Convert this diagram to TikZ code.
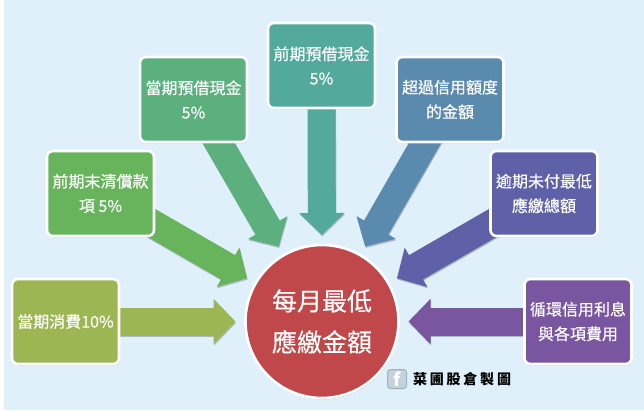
\documentclass[tikz,border=0pt]{standalone}
\usepackage{fontspec}
\setmainfont{Noto Sans CJK TC}
\newfontface\medcjk[FakeBold=0.35]{Noto Sans CJK TC}
\usetikzlibrary{arrows.meta,shadows,backgrounds,calc}
\pgfdeclarelayer{back}
\pgfsetlayers{back,background,main}
\definecolor{bgblue}{HTML}{DFF0FA}
\definecolor{ca}{HTML}{9BB652}
\definecolor{cb}{HTML}{67B45C}
\definecolor{cc}{HTML}{5BB07E}
\definecolor{cd}{HTML}{52A99C}
\definecolor{ce}{HTML}{5A8AAD}
\definecolor{cf}{HTML}{5E60A8}
\definecolor{cg}{HTML}{7A55A0}
\definecolor{cm}{HTML}{C0484A}
\definecolor{iconfill}{HTML}{C3D2DC}
\definecolor{iconedge}{HTML}{9FB0BC}
\tikzset{
  softshadow/.style={drop shadow={shadow xshift=0.6pt,shadow yshift=-1.4pt,opacity=.35,fill=black!70}},
  box/.style={rectangle,rounded corners=6pt,draw=white,line width=2.6pt,minimum width=107pt,minimum height=85pt,
    inner sep=0pt,outer sep=0pt,text=white,align=center,font=\fontsize{16}{24.5}\medcjk,softshadow},
  hub/.style={circle,draw=white,line width=2.6pt,minimum size=153pt,inner sep=0pt,outer sep=0pt,fill=cm,
    text=white,align=center,font=\fontsize{25}{41}\medcjk,softshadow},
  bigarrow/.style={line width=28pt,shorten >=10pt,shorten <=-14pt,
    -{Triangle[length=22pt,width=44pt]}},
  arrowshadow/.style={bigarrow,black,opacity=.22,transform canvas={xshift=.6pt,yshift=-1.4pt}},
  fbicon/.style={rectangle,rounded corners=3pt,draw=iconedge,line width=1pt,fill=iconfill,minimum size=19pt,
    inner sep=0pt,outer sep=0pt,text=white,font=\fontsize{18}{18}\selectfont\bfseries},
  credit/.style={inner sep=0pt,outer sep=0pt,text=black,font=\fontsize{14}{14}\selectfont\bfseries},
}
\begin{document}
\begin{tikzpicture}[x=1pt,y=-1pt]
\useasboundingbox (0,0) rectangle (644,411);
\begin{pgfonlayer}{back}
  \fill[white] (0,0) rectangle (644,411);
  \fill[bgblue] (4,0) rectangle (644,410);
\end{pgfonlayer}
\node[hub] (m) at (322,321.5) {每月最低\\應繳金額};
\node[box,fill=ca] (a) at (65.5,321.5) {當期消費10\%};
\node[box,fill=cb] (b) at (100.5,193.5) {前期末清償款\\項 5\%};
\node[box,fill=cc] (c) at (193.5,99.5) {當期預借現金\\5\%};
\node[box,fill=cd] (d) at (321.5,65.5) {前期預借現金\\5\%};
\node[box,fill=ce] (e) at (450,99.5) {超過信用額度\\的金額};
\node[box,fill=cf] (f) at (544,193.5) {逾期未付最低\\應繳總額};
\node[box,fill=cg] (g) at (578,321.5) {循環信用利息\\與各項費用};
\node[fbicon] (fb) at (397,379) {f};
\node[credit,anchor=west] (cr) at (413,379) {菜\hspace{2.8pt}圃\hspace{2.8pt}股\hspace{2.8pt}倉\hspace{2.8pt}製\hspace{2.8pt}圖};
\begin{pgfonlayer}{background}
  \foreach \n/\c in {a/ca,b/cb,c/cc,d/cd,e/ce,f/cf,g/cg}{
    \draw[arrowshadow] (\n) -- (m);
    \draw[bigarrow,\c] (\n) -- (m);
  }
\end{pgfonlayer}
\end{tikzpicture}
\end{document}
